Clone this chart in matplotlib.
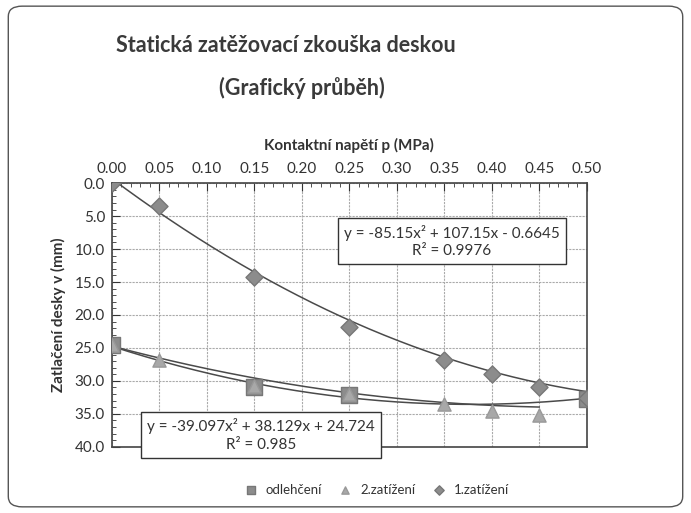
import numpy as np
import matplotlib
matplotlib.use('Agg')
import matplotlib.pyplot as plt
from matplotlib.patches import FancyBboxPatch
from matplotlib.ticker import MultipleLocator

plt.rcParams['font.family'] = ['Lato', 'DejaVu Sans']

# data
p_odlehceni = [0.00, 0.15, 0.25, 0.50]
v_odlehceni = [24.6, 30.9, 32.1, 32.7]

p_zat2 = [0.00, 0.05, 0.15, 0.25, 0.35, 0.40, 0.45]
v_zat2 = [24.6, 26.8, 30.7, 32.0, 33.5, 34.5, 35.2]

p_zat1 = [0.00, 0.05, 0.15, 0.25, 0.35, 0.40, 0.45, 0.50]
v_zat1 = [0.0, 3.4, 14.2, 21.8, 26.8, 28.9, 31.0, 32.6]

# trendline coefficients shown on the chart
coef_zat1 = [-85.15, 107.15, -0.6645]
coef_zat2 = [-39.097, 38.129, 24.724]

legend_labels = ['odlehčení', '2.zatížení', '1.zatížení']

fig = plt.figure(figsize=(6.91, 5.13), dpi=100)
fig.patches.append(FancyBboxPatch((0.012, 0.012), 0.976, 0.976,
                                  boxstyle='round,pad=0,rounding_size=0.02',
                                  transform=fig.transFigure, fill=False,
                                  edgecolor='#555555', linewidth=1.0))

ax = fig.add_axes([0.162, 0.129, 0.687, 0.514])

mk_color = '#8c8c8c'
line_color = '#4a4a4a'

# trendlines
xs = np.linspace(0, 0.5, 200)
ax.plot(xs, np.polyval(coef_zat1, xs), color=line_color, lw=1.1, zorder=2)
xs2 = np.linspace(0, 0.45, 200)
ax.plot(xs2, np.polyval(coef_zat2, xs2), color=line_color, lw=1.1, zorder=2)
coef_odl = np.polyfit(p_odlehceni, v_odlehceni, 2)
ax.plot(xs, np.polyval(coef_odl, xs), color=line_color, lw=1.1, zorder=2)

ax.scatter(p_odlehceni, v_odlehceni, marker='s', s=120, color=mk_color,
           edgecolor='#777777', zorder=3, label=legend_labels[0])
ax.scatter(p_zat2, v_zat2, marker='^', s=90, color='#a8a8a8',
           edgecolor='#999999', zorder=4, label=legend_labels[1])
ax.scatter(p_zat1, v_zat1, marker='D', s=75, color=mk_color,
           edgecolor='#777777', zorder=5, label=legend_labels[2])

ax.set_xlim(0, 0.5)
ax.set_ylim(40, 0)
ax.xaxis.tick_top()
ax.xaxis.set_label_position('top')
ax.xaxis.set_major_locator(MultipleLocator(0.05))
ax.xaxis.set_minor_locator(MultipleLocator(0.01))
ax.yaxis.set_major_locator(MultipleLocator(5))
ax.yaxis.set_minor_locator(MultipleLocator(1))
ax.xaxis.set_major_formatter(lambda v, pos: f'{v:.2f}')
ax.yaxis.set_major_formatter(lambda v, pos: f'{v:.1f}')
ax.tick_params(axis='both', which='major', direction='in', length=6,
               labelsize=11, colors='#333333', pad=5)
ax.tick_params(axis='both', which='minor', direction='in', length=3,
               color='#333333')
ax.grid(True, which='major', linestyle=(0, (2, 1)), color='#aaaaaa', lw=0.8)
for s in ax.spines.values():
    s.set_color('#444444')
    s.set_linewidth(1.2)

ax.set_xlabel('Kontaktní napětí p (MPa)', fontsize=11, fontweight='bold',
              color='#333333', labelpad=9)
ax.set_ylabel('Zatlačení desky v (mm)', fontsize=11, fontweight='bold',
              color='#333333', labelpad=6)

box = dict(boxstyle='square,pad=0.4', facecolor='white',
           edgecolor='#333333', lw=1.0)
ax.text(0.358, 8.8, 'y = -85.15x² + 107.15x - 0.6645\nR² = 0.9976',
        ha='center', va='center', fontsize=11, color='#333333',
        bbox=box, linespacing=1.3, zorder=6)
ax.text(0.157, 38.2, 'y = -39.097x² + 38.129x + 24.724\nR² = 0.985',
        ha='center', va='center', fontsize=11, color='#333333',
        bbox=box, linespacing=1.3, zorder=6, clip_on=False)

fig.text(0.413, 0.912, 'Statická zatěžovací zkouška deskou',
         ha='center', va='center', fontsize=15.5, fontweight='bold',
         color='#3a3a3a')
fig.text(0.437, 0.828, '(Grafický průběh)',
         ha='center', va='center', fontsize=15.5, fontweight='bold',
         color='#3a3a3a')

fig.legend(loc='center', bbox_to_anchor=(0.54, 0.045), ncol=3, frameon=False,
           fontsize=9.5, handletextpad=0.1, columnspacing=0.8,
           markerscale=0.55, labelcolor='#333333')

fig.savefig('out.png', dpi=100)
